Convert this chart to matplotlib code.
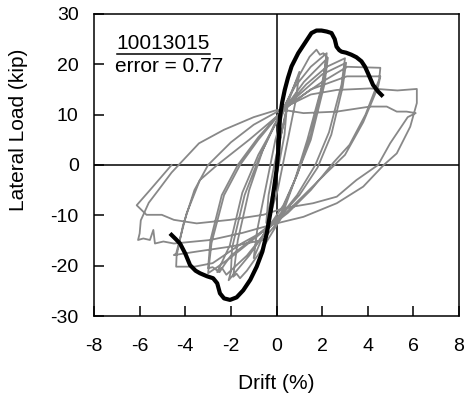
import matplotlib
matplotlib.use("Agg")
import matplotlib.pyplot as plt
from matplotlib.lines import Line2D

plt.rcParams['font.family'] = ['Liberation Sans', 'DejaVu Sans']
plt.rcParams['axes.unicode_minus'] = False

# Measured cyclic response (drift %, lateral load kip), drawn as one continuous trace
test_drift = [
    0.0, 0.2, 0.45, 0.35, 0.1, -0.2, -0.45, -0.35, -0.1,
    0.25, 0.55, 1.0, 0.85, 0.45, 0.05, -0.45, -1.0, -0.85, -0.45, -0.05,
    0.35, 0.9, 1.45, 1.75, 1.9, 2.05, 2.2, 1.95, 1.35, 0.8, 0.2, -0.6, -1.3, -1.6, -1.75, -1.9,
    -1.7, -1.2, -0.6, 0.2,
    0.8, 1.5, 2.2, 2.05, 1.5, 0.9, 0.3, -0.3, -1.2, -2.1, -2.0, -1.95, -1.4, -0.8, -0.1, 0.4,
    1.2, 2.25, 2.1, 1.5, 0.8, 0.2, -0.5, -1.3, -2.2, -2.4, -2.6, -2.05, -1.5, -0.8, 0.0, 0.5,
    1.3, 2.2, 3.0, 2.85, 2.3, 1.7, 0.9, 0.1, -0.8, -1.9, -2.6, -2.8, -3.0, -2.85, -2.3, -1.6, -0.8, 0.2,
    1.0, 2.0, 3.05, 2.9, 2.4, 1.8, 1.0, 0.2, -1.0, -2.0, -2.3, -2.5, -2.8, -3.0, -2.9, -2.4, -1.7, -0.8, 0.3,
    1.2, 2.0, 3.1, 4.55, 4.5, 3.9, 3.2, 2.5, 1.5, 0.5, -0.5, -1.5, -2.8, -3.6, -4.4, -4.38, -4.1, -3.6,
    -3.0, -2.0, -1.0, 0.0, 0.6,
    1.5, 3.08, 4.55, 4.45, 3.8, 3.0, 2.2, 1.2, 0.3, -0.6, -2.0, -3.5, -4.5, -4.4, -3.94, -3.36, -2.6, -1.2,
    0.0, 0.6,
    1.5, 2.64, 4.1, 5.3, 6.15, 6.15, 5.86, 5.27, 4.7, 3.8, 2.64, 1.18, 0.0, -1.5, -2.9, -4.5, -4.96, -5.33,
    -5.4, -5.55, -5.84, -6.07, -6.0, -5.95, -5.6, -5.18, -4.6, -3.4, -2.3, -1.0, 0.0,
    0.36, 1.18, 2.64, 4.1, 4.83, 5.27, 5.7, 6.1, 5.75, 4.98, 4.45, 3.5, 2.64, 1.6, 0.3, -0.58, -2.04,
    -2.9, -3.5, -4.5, -5.03, -5.7, -6.13, -5.55, -4.6,
]
test_load = [
    0.0, 6.0, 11.5, 6.0, 0.0, -6.0, -11.5, -6.0, 0.0,
    7.0, 13.0, 18.5, 13.0, 4.0, -5.0, -12.5, -18.5, -13.0, -4.0, 5.0,
    11.5, 17.0, 21.5, 22.9, 21.9, 22.2, 21.5, 15.0, 5.0, -3.0, -10.5, -16.5, -21.0, -22.5, -21.6, -22.2,
    -15.0, -5.0, 3.0, 10.5,
    15.5, 19.5, 22.2, 16.5, 6.0, -2.0, -8.0, -12.0, -18.0, -22.9, -21.2, -16.5, -6.0, 1.0, 8.0, 11.5,
    16.5, 21.3, 16.0, 5.0, -3.0, -9.5, -13.5, -18.0, -21.8, -20.4, -21.3, -16.0, -5.5, 2.0, 8.5, 12.0,
    16.0, 19.5, 21.2, 16.0, 6.5, 0.0, -6.0, -10.5, -14.0, -18.0, -20.3, -20.9, -21.5, -15.5, -6.0, 0.0, 5.0, 10.5,
    14.0, 18.0, 20.3, 15.5, 6.0, -0.5, -6.0, -10.0, -14.5, -18.0, -19.9, -21.3, -20.3, -20.5, -15.0, -6.0, 0.0, 5.5, 11.0,
    14.0, 16.5, 19.5, 19.3, 17.0, 10.0, 4.0, 0.5, -5.0, -9.5, -13.0, -15.5, -19.5, -20.2, -20.2, -18.0, -12.0, -5.0,
    0.0, 4.5, 8.0, 10.5, 12.0,
    15.0, 17.6, 17.6, 15.5, 8.5, 2.0, -1.5, -6.0, -10.0, -14.9, -16.2, -17.2, -17.9, -17.6, -9.6, -3.0, 0.0, 5.0,
    9.6, 12.0,
    14.0, 14.9, 15.2, 14.8, 15.1, 12.3, 7.6, 2.3, 0.0, -4.3, -7.6, -10.3, -11.6, -13.5, -14.9, -15.6, -15.2, -15.6,
    -12.9, -14.9, -14.6, -14.9, -13.6, -11.0, -7.5, -5.0, -1.5, 4.3, 7.0, 9.5, 10.9,
    10.9, 10.3, 10.6, 11.6, 11.6, 10.6, 10.6, 10.3, 9.5, 4.3, 0.0, -3.0, -6.3, -7.6, -8.6, -9.9, -10.9,
    -11.3, -11.6, -10.9, -9.9, -9.9, -8.0, -5.0, 0.0,
]

# Analytical envelope (drift %, load kip)
model_drift = [-4.67, -4.4, -4.23, -4.0, -3.79, -3.55, -3.36, -3.05, -2.78, -2.6, -2.48, -2.3, -2.04,
               -1.75, -1.46, -1.15, -0.87, -0.62, -0.43, -0.25, -0.14, 0.0, 0.08, 0.15, 0.25, 0.36, 0.5,
               0.66, 0.95, 1.24, 1.53, 1.75, 1.97, 2.2, 2.41, 2.55, 2.63, 2.75, 2.85, 3.05, 3.28, 3.5,
               3.72, 3.88, 4.01, 4.23, 4.45, 4.67]
model_load = [-13.6, -14.8, -15.6, -17.6, -19.9, -21.0, -21.5, -22.1, -22.5, -23.5, -25.5, -26.5, -26.8,
              -26.3, -24.9, -22.8, -20.2, -17.2, -13.6, -9.0, -5.6, -1.0, 3.0, 9.6, 12.5, 14.9, 17.3,
              19.6, 22.2, 24.2, 26.2, 26.7, 26.7, 26.5, 26.2, 25.0, 23.5, 22.8, 22.5, 22.3, 21.9, 21.4,
              20.6, 19.5, 18.2, 15.9, 14.6, 13.6]

x_ticks = [-8, -6, -4, -2, 0, 2, 4, 6, 8]
y_ticks = [-30, -20, -10, 0, 10, 20, 30]
specimen_id = "10013015"
error_text = "error = 0.77"

fig = plt.figure(figsize=(4.65, 3.98), dpi=100)
ax = fig.add_axes([0.2022, 0.206, 0.785, 0.759])

ax.axhline(0, color='black', lw=1.1, zorder=1)
ax.axvline(0, color='black', lw=1.1, zorder=1)
ax.plot(test_drift, test_load, color='#888888', lw=1.3, zorder=2)
ax.plot(model_drift, model_load, color='black', lw=3.0, zorder=3, solid_capstyle='butt')

ax.set_xlim(-8, 8)
ax.set_ylim(-30, 30)
ax.set_xticks(x_ticks)
ax.set_yticks(y_ticks)
ax.tick_params(direction='in', length=7, width=1.1, labelsize=14, pad=11)
ax.tick_params(axis='x', pad=16)
for s in ax.spines.values():
    s.set_linewidth(1.1)

ax.set_xlabel("Drift (%)", fontsize=15)
ax.set_ylabel("Lateral Load (kip)", fontsize=15)
ax.xaxis.label.set_va('center')
ax.yaxis.label.set_va('center')
ax.xaxis.set_label_coords(0.5, -0.222)
ax.yaxis.set_label_coords(-0.208, 0.615)

t1 = ax.text(-7.0, 23.1, specimen_id, fontsize=15, va='baseline', ha='left')
ax.text(-7.07, 18.5, error_text, fontsize=15, va='baseline', ha='left')

# underline the specimen id using its rendered extent
fig.canvas.draw()
bb = t1.get_window_extent().transformed(ax.transData.inverted())
ax.add_line(Line2D([bb.x0, bb.x1], [bb.y0 - 0.3, bb.y0 - 0.3], color='black', lw=1.1))

fig.savefig("out.png", dpi=100)
